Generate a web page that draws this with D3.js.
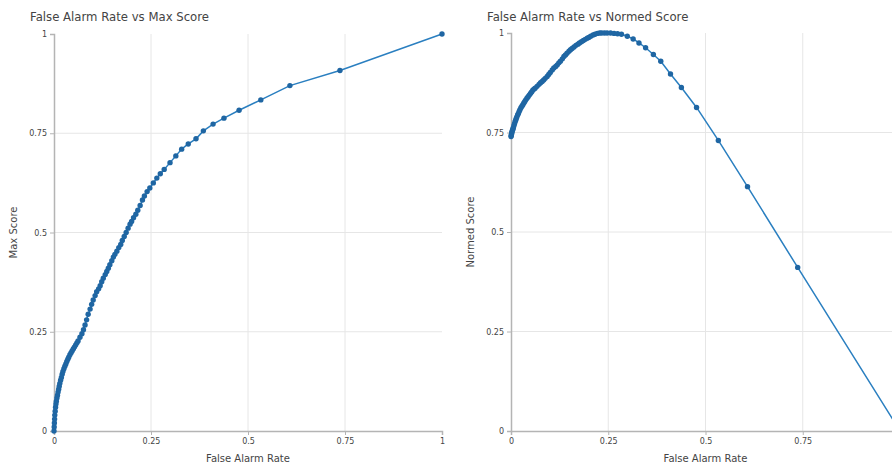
<!DOCTYPE html>
<html>
<head>
<meta charset="utf-8">
<script src="https://cdn.jsdelivr.net/npm/d3@7"></script>
<style>
  body { margin: 0; background: #fff; }
  text { font-family: "DejaVu Sans", Verdana, sans-serif; fill: #444; }
</style>
</head>
<body>
<svg id="chart" width="892" height="463"></svg>
<script>
// False alarm rate (shared x values for both panels)
const falseAlarmRate = [0, 0.0005, 0.001, 0.0015, 0.002, 0.003, 0.004, 0.005, 0.006, 0.0075,
  0.009, 0.0105, 0.012, 0.0135, 0.015, 0.017, 0.019, 0.021, 0.023, 0.0255,
  0.028, 0.0305, 0.033, 0.0355, 0.038, 0.041, 0.044, 0.047, 0.050, 0.053,
  0.056, 0.059, 0.062, 0.067, 0.072, 0.076,
  0.080, 0.084, 0.088, 0.093, 0.097, 0.101, 0.106, 0.110, 0.115, 0.119,
  0.123, 0.127, 0.132, 0.136, 0.140, 0.144, 0.149, 0.153, 0.157, 0.162,
  0.167, 0.172, 0.176, 0.181, 0.186, 0.191, 0.196, 0.200, 0.205, 0.211,
  0.216, 0.222, 0.228, 0.233, 0.240, 0.247, 0.256, 0.265, 0.274, 0.284,
  0.299, 0.314, 0.329, 0.346, 0.366, 0.385, 0.410, 0.438, 0.477, 0.533,
  0.608, 0.737, 1];

const maxScore = [0, 0.010, 0.020, 0.030, 0.040, 0.050, 0.060, 0.068, 0.075, 0.083,
  0.090, 0.098, 0.105, 0.113, 0.120, 0.128, 0.135, 0.143, 0.150, 0.157,
  0.163, 0.169, 0.175, 0.181, 0.186, 0.192, 0.197, 0.202, 0.207, 0.212,
  0.217, 0.222, 0.227, 0.236, 0.245, 0.255,
  0.267, 0.280, 0.294, 0.307, 0.319, 0.330, 0.341, 0.351, 0.358, 0.366,
  0.376, 0.385, 0.394, 0.402, 0.410, 0.419, 0.429, 0.438, 0.445, 0.453,
  0.462, 0.470, 0.480, 0.490, 0.500, 0.511, 0.521, 0.528, 0.537, 0.546,
  0.556, 0.568, 0.582, 0.592, 0.603, 0.612, 0.625, 0.637, 0.648, 0.659,
  0.676, 0.693, 0.710, 0.723, 0.736, 0.756, 0.773, 0.788, 0.808, 0.834,
  0.870, 0.908, 1];

const normedScore = [0.740, 0.742, 0.745, 0.747, 0.750, 0.753, 0.756, 0.759, 0.762, 0.767,
  0.772, 0.777, 0.781, 0.785, 0.789, 0.794, 0.798, 0.803, 0.807, 0.812,
  0.816, 0.820, 0.824, 0.828, 0.832, 0.836, 0.840, 0.844, 0.848, 0.852,
  0.856, 0.859, 0.861, 0.866, 0.871, 0.875,
  0.878, 0.882, 0.886, 0.891, 0.896, 0.901, 0.907, 0.912, 0.916, 0.920,
  0.925, 0.929, 0.935, 0.941, 0.945, 0.949, 0.954, 0.958, 0.961, 0.965,
  0.969, 0.972, 0.975, 0.978, 0.981, 0.984, 0.987, 0.989, 0.992, 0.995,
  0.997, 0.999, 1.000, 1.000, 1.000, 1.000, 1.000, 0.999, 0.998, 0.997,
  0.992, 0.985, 0.975, 0.963, 0.946, 0.929, 0.897, 0.863, 0.813, 0.730,
  0.614, 0.411, 0];

const tickValues = [0, 0.25, 0.5, 0.75, 1];
const tickLabels = ['0', '0.25', '0.5', '0.75', '1'];

const lineColor = '#2a7fc0';
const markerColor = '#1f66a3';

const panels = [
  { title: 'False Alarm Rate vs Max Score', yLabel: 'Max Score', values: maxScore,
    left: 54, top: 34, width: 388, height: 397, titleX: 30, yLabelX: 17 },
  { title: 'False Alarm Rate vs Normed Score', yLabel: 'Normed Score', values: normedScore,
    left: 511, top: 33, width: 389, height: 398, titleX: 487, yLabelX: 474 }
];

const svg = d3.select('#chart');

panels.forEach(p => {
  const x = d3.scaleLinear().domain([0, 1]).range([p.left, p.left + p.width]);
  const y = d3.scaleLinear().domain([0, 1]).range([p.top + p.height, p.top]);

  const g = svg.append('g');

  // Grid lines
  g.selectAll('.vgrid')
    .data(tickValues.slice(1, 4))
    .enter()
    .append('line')
    .attr('x1', d => x(d)).attr('x2', d => x(d))
    .attr('y1', p.top).attr('y2', p.top + p.height)
    .attr('stroke', '#e6e6e6').attr('stroke-width', 1);

  g.selectAll('.hgrid')
    .data(tickValues.slice(1, 4))
    .enter()
    .append('line')
    .attr('x1', p.left).attr('x2', p.left + p.width)
    .attr('y1', d => y(d)).attr('y2', d => y(d))
    .attr('stroke', '#e6e6e6').attr('stroke-width', 1);

  // Axes (hide labels that fall outside the window)
  const fmt = (d, i) => (x(d) > 890 ? '' : tickLabels[i]);

  const xAxis = d3.axisBottom(x)
    .tickValues(tickValues)
    .tickFormat(fmt)
    .tickSize(4)
    .tickPadding(3);

  const yAxis = d3.axisLeft(y)
    .tickValues(tickValues)
    .tickFormat((d, i) => tickLabels[i])
    .tickSize(4)
    .tickPadding(3);

  const gx = g.append('g')
    .attr('transform', `translate(0,${p.top + p.height})`)
    .call(xAxis);
  const gy = g.append('g')
    .attr('transform', `translate(${p.left},0)`)
    .call(yAxis);

  [gx, gy].forEach(a => {
    a.select('.domain').attr('stroke', '#b4b4b4').attr('stroke-width', 1.5);
    a.selectAll('.tick line').attr('stroke', '#b4b4b4');
    a.selectAll('.tick text').attr('font-size', 8).attr('fill', '#444')
      .style('font-family', '"DejaVu Sans", Verdana, sans-serif');
  });

  // Line and markers
  const pts = falseAlarmRate.map((f, i) => [f, p.values[i]]);

  g.append('path')
    .datum(pts)
    .attr('fill', 'none')
    .attr('stroke', lineColor)
    .attr('stroke-width', 1.5)
    .attr('d', d3.line().x(d => x(d[0])).y(d => y(d[1])));

  g.selectAll('.dot')
    .data(pts)
    .enter()
    .append('circle')
    .attr('cx', d => x(d[0]))
    .attr('cy', d => y(d[1]))
    .attr('r', 2.7)
    .attr('fill', markerColor);

  // Titles
  svg.append('text')
    .attr('x', p.titleX)
    .attr('y', 21)
    .attr('font-size', 11.7)
    .attr('fill', '#444')
    .text(p.title);

  svg.append('text')
    .attr('x', x(0.5))
    .attr('y', 462)
    .attr('text-anchor', 'middle')
    .attr('font-size', 10)
    .text('False Alarm Rate');

  svg.append('text')
    .attr('transform', `translate(${p.yLabelX},${p.top + p.height / 2}) rotate(-90)`)
    .attr('text-anchor', 'middle')
    .attr('font-size', 10)
    .text(p.yLabel);
});
</script>
</body>
</html>
